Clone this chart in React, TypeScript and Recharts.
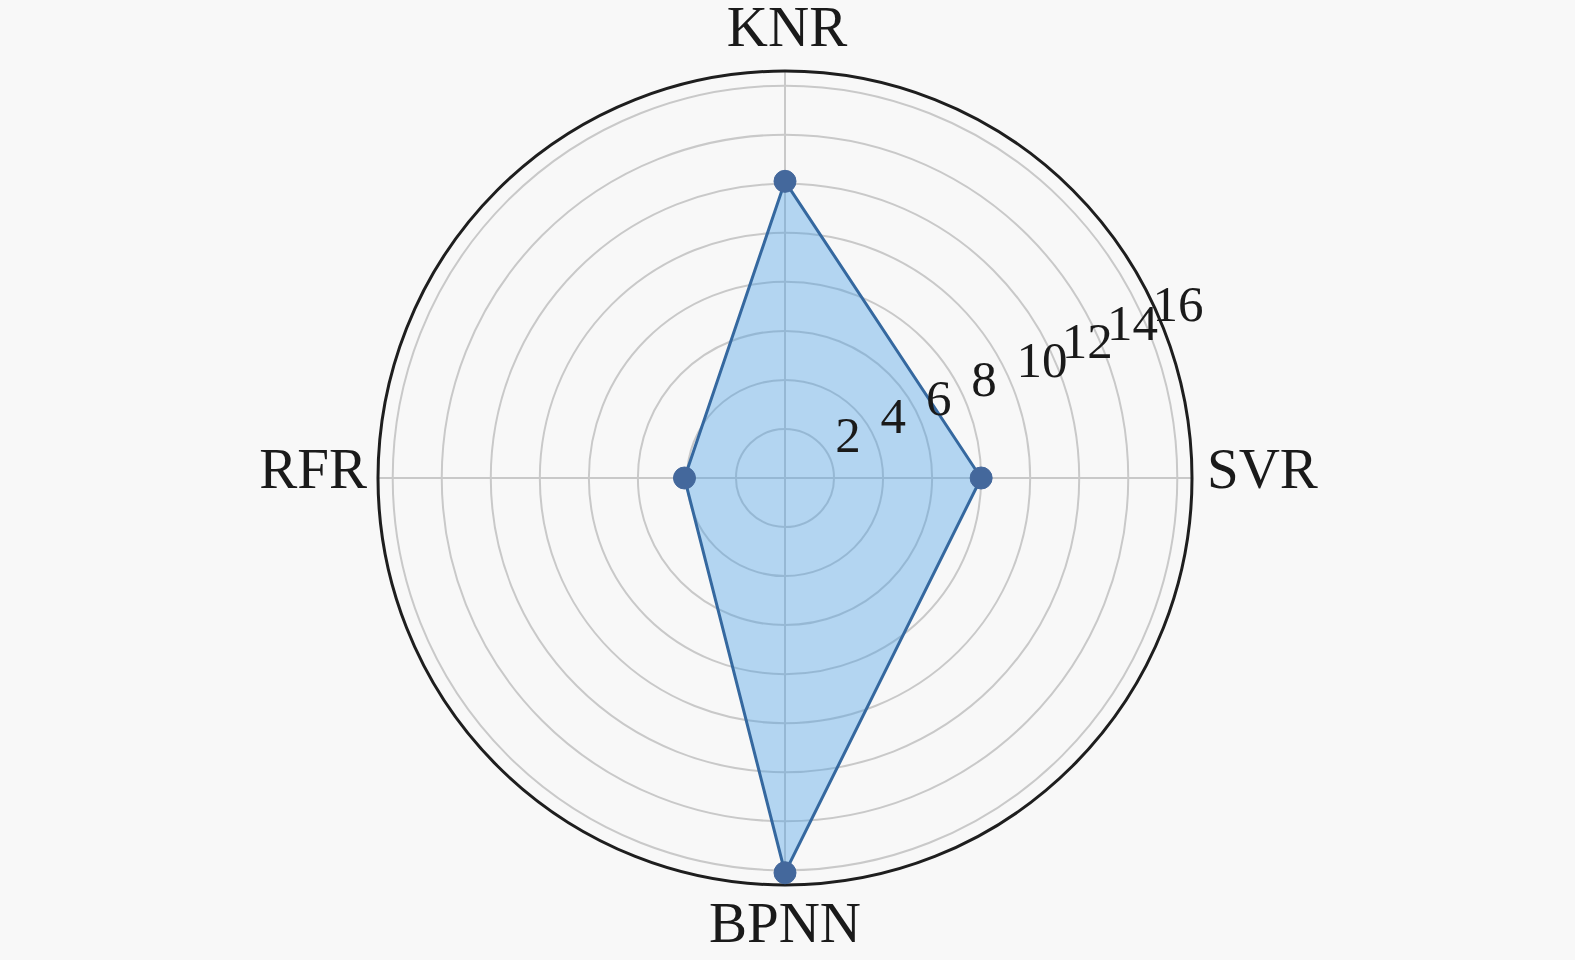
import { RadarChart, Radar, PolarGrid, PolarAngleAxis, PolarRadiusAxis } from 'recharts';

const models = ['KNR', 'SVR', 'BPNN', 'RFR'];
const scores = [12.1, 8.0, 16.1, 4.1];
const radiusTicks = [2, 4, 6, 8, 10, 12, 14, 16];
const radiusMax = 16.6;

const data = models.map((model, i) => ({ model, value: scores[i] }));

const W = 1575;
const H = 960;
const CX = 785;
const CY = 478;
const OUTER_R = 407;
const FONT = '"Liberation Serif", "Times New Roman", serif';

function AngleTick(props: any) {
  const { x, y, payload } = props;
  const ux = x - CX;
  const uy = y - CY;
  let anchor = 'middle';
  let px = x;
  let py = y;
  if (Math.abs(ux) > Math.abs(uy)) {
    anchor = ux > 0 ? 'start' : 'end';
    px = ux > 0 ? x + 7 : x - 3;
    py = y + 10;
  } else if (uy < 0) {
    py = y - 17;
    px = x + 2;
  } else {
    py = y + 49;
  }
  return (
    <text x={px} y={py} textAnchor={anchor} fontSize={57} fontFamily={FONT} fill="#1a1a1a">
      {payload.value}
    </text>
  );
}

function RadiusTick(props: any) {
  const { x, y, payload } = props;
  return (
    <text x={x + 5} y={y - 7} textAnchor="start" fontSize={51} fontFamily={FONT} fill="#1a1a1a">
      {payload.value}
    </text>
  );
}

export default function App() {
  return (
    <div style={{ position: 'fixed', left: 0, top: 0, width: W, height: H, background: '#f8f8f8' }}>
      <RadarChart width={W} height={H} data={data} cx={CX} cy={CY} outerRadius={OUTER_R}>
        <PolarGrid gridType="circle" stroke="#c9c9c9" strokeWidth={2} />
        <PolarGrid gridType="circle" polarRadius={[OUTER_R]} polarAngles={[]} radialLines={false} stroke="#1e1e1e" strokeWidth={3} />
        <PolarAngleAxis dataKey="model" tick={AngleTick} axisLine={false} tickLine={false} />
        <PolarRadiusAxis
          angle={22.5}
          type="number"
          scale="linear"
          domain={[0, radiusMax]}
          allowDataOverflow
          allowDecimals
          ticks={radiusTicks}
          tick={RadiusTick}
          axisLine={false}
          tickLine={false}
        />
        <Radar
          dataKey="value"
          stroke="#35689f"
          strokeWidth={3}
          fill="#4a9fe6"
          fillOpacity={0.4}
          dot={{ r: 11, fill: '#44689c', stroke: '#44689c', strokeWidth: 1, fillOpacity: 1 }}
          isAnimationActive={false}
        />
      </RadarChart>
    </div>
  );
}
